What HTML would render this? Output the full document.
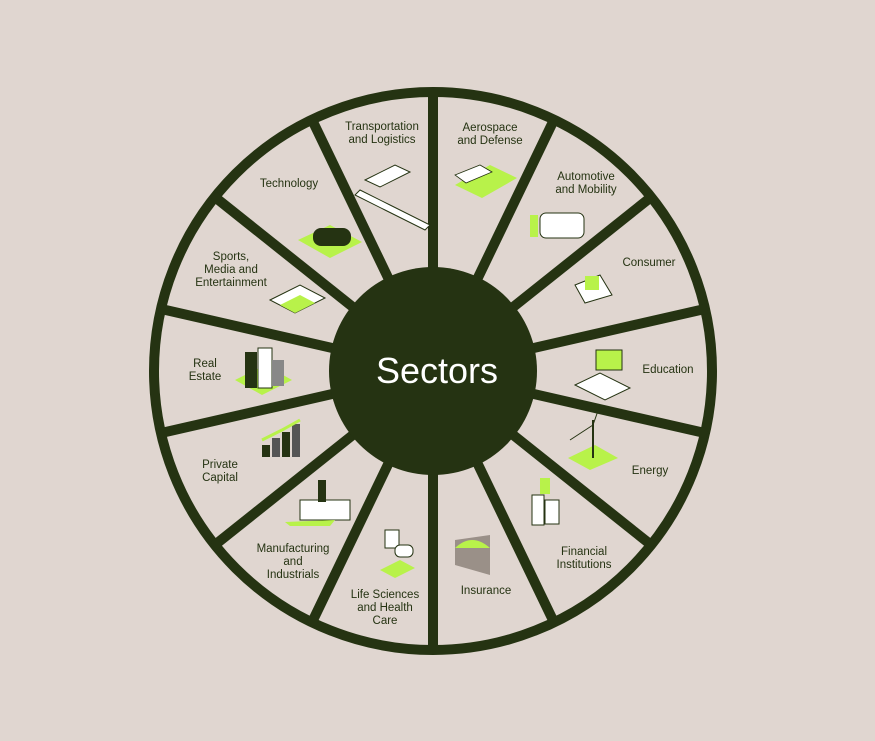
<!DOCTYPE html>
<html><head><meta charset="utf-8">
<style>
html,body{margin:0;padding:0;background:#e0d6d0;}
svg{display:block}
text{font-family:"Liberation Sans",sans-serif;fill:#253312;font-size:11.5px;text-anchor:middle}
</style></head><body>
<svg width="875" height="741" viewBox="0 0 875 741" xmlns="http://www.w3.org/2000/svg">
<rect width="875" height="741" fill="#e0d6d0"/>
<circle cx="433" cy="371" r="279" fill="none" stroke="#253312" stroke-width="10"/>
<g stroke="#253312" stroke-width="10" id="spokes"></g>
<script>
var g=document.getElementById('spokes');
for(var k=0;k<14;k++){var a=k*Math.PI*2/14;var s=Math.sin(a),c=-Math.cos(a);
var l=document.createElementNS('http://www.w3.org/2000/svg','line');
l.setAttribute('x1',433+s*100);l.setAttribute('y1',371+c*100);
l.setAttribute('x2',433+s*281);l.setAttribute('y2',371+c*281);g.appendChild(l);}
</script>
<circle cx="433" cy="371" r="104" fill="#253312"/>
<text x="437" y="383" style="font-size:36px;fill:#fff">Sectors</text>

<!-- icons (simplified) -->
<g>
<polygon points="455,185 490,165 517,178 482,198" fill="#b8f24a"/><polygon points="455,175 480,165 492,172 466,183" fill="#fff" stroke="#253312" stroke-width="0.8"/>
<polygon points="365,180 395,165 410,172 380,187" fill="#fff" stroke="#253312"/><polygon points="360,190 390,205 430,225 425,230 385,210 355,195" fill="#fff" stroke="#253312"/>
<polygon points="298,240 330,225 362,242 330,258" fill="#b8f24a"/><rect x="313" y="228" width="38" height="18" rx="8" fill="#253312"/>
<polygon points="270,300 300,285 325,298 295,313" fill="#fff" stroke="#253312"/><polygon points="280,305 300,295 315,303 295,313" fill="#b8f24a"/>
<polygon points="235,380 265,365 292,380 262,395" fill="#b8f24a"/><rect x="245" y="352" width="12" height="36" fill="#253312"/><rect x="258" y="348" width="14" height="40" fill="#fff" stroke="#253312"/><rect x="272" y="360" width="12" height="26" fill="#888"/>
<rect x="262" y="445" width="8" height="12" fill="#253312"/><rect x="272" y="438" width="8" height="19" fill="#555"/><rect x="282" y="432" width="8" height="25" fill="#253312"/><rect x="292" y="424" width="8" height="33" fill="#555"/><polyline points="262,440 282,430 300,420" stroke="#b8f24a" stroke-width="3" fill="none"/>
<rect x="300" y="500" width="50" height="20" fill="#fff" stroke="#253312"/><rect x="318" y="480" width="8" height="22" fill="#253312"/><polygon points="285,522 335,520 330,526 290,526" fill="#b8f24a"/>
<rect x="385" y="530" width="14" height="18" fill="#fff" stroke="#253312"/><polygon points="380,570 400,560 415,568 395,578" fill="#b8f24a"/><rect x="395" y="545" width="18" height="12" rx="5" fill="#fff" stroke="#253312"/>
<polygon points="455,540 490,535 490,575 455,565" fill="#9a9088"/><path d="M455,548 Q472,532 490,548 Z" fill="#b8f24a"/>
<rect x="532" y="495" width="12" height="30" fill="#fff" stroke="#253312"/><rect x="545" y="500" width="14" height="24" fill="#fff" stroke="#253312"/><rect x="540" y="478" width="10" height="16" fill="#b8f24a"/>
<polygon points="568,458 595,445 618,458 590,470" fill="#b8f24a"/><line x1="593" y1="420" x2="593" y2="458" stroke="#253312" stroke-width="2"/><line x1="593" y1="425" x2="570" y2="440" stroke="#253312"/><line x1="593" y1="425" x2="600" y2="405" stroke="#253312"/>
<polygon points="575,385 600,373 630,388 605,400" fill="#fff" stroke="#253312"/><rect x="596" y="350" width="26" height="20" fill="#b8f24a" stroke="#253312"/>
<polygon points="575,285 600,275 612,295 585,303" fill="#fff" stroke="#253312"/><rect x="585" y="276" width="14" height="14" fill="#b8f24a"/>
<rect x="540" y="213" width="44" height="25" rx="6" fill="#fff" stroke="#253312"/><rect x="530" y="215" width="8" height="22" fill="#b8f24a"/>
</g>

<text x="382" y="130">Transportation</text><text x="382" y="143">and Logistics</text>
<text x="490" y="131">Aerospace</text><text x="490" y="144">and Defense</text>
<text x="586" y="180">Automotive</text><text x="586" y="193">and Mobility</text>
<text x="649" y="266">Consumer</text>
<text x="668" y="373">Education</text>
<text x="650" y="474">Energy</text>
<text x="584" y="555">Financial</text><text x="584" y="568">Institutions</text>
<text x="486" y="594">Insurance</text>
<text x="385" y="598">Life Sciences</text><text x="385" y="611">and Health</text><text x="385" y="624">Care</text>
<text x="293" y="552">Manufacturing</text><text x="293" y="565">and</text><text x="293" y="578">Industrials</text>
<text x="220" y="468">Private</text><text x="220" y="481">Capital</text>
<text x="205" y="367">Real</text><text x="205" y="380">Estate</text>
<text x="231" y="260">Sports,</text><text x="231" y="273">Media and</text><text x="231" y="286">Entertainment</text>
<text x="289" y="187">Technology</text>
</svg>
</body></html>
